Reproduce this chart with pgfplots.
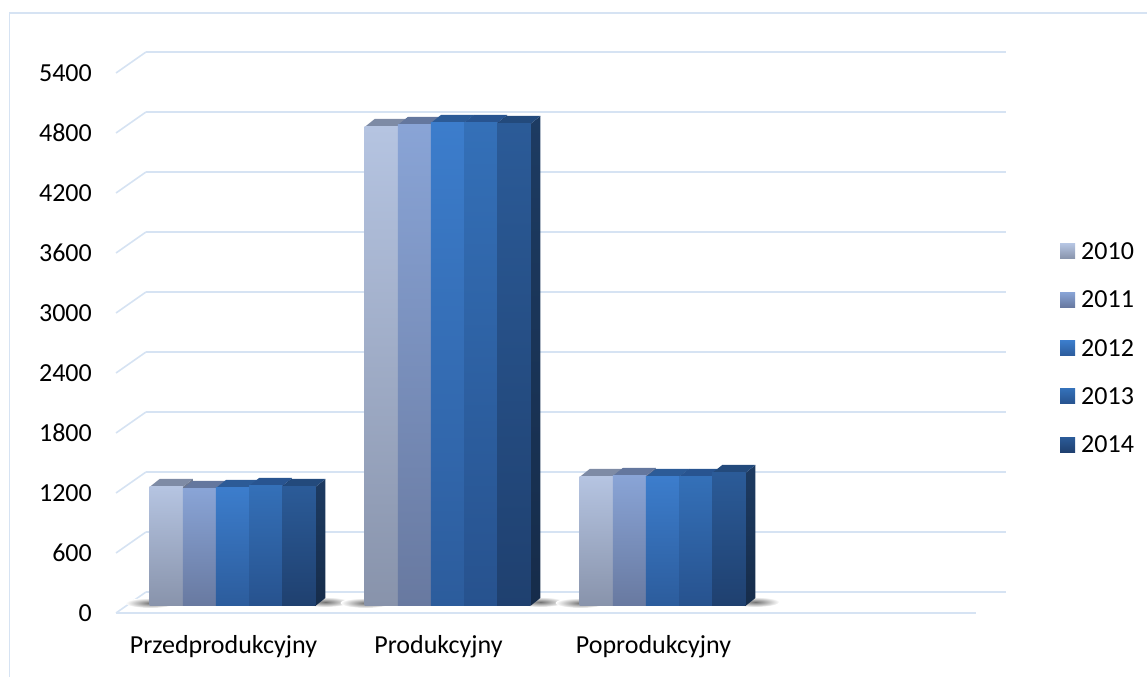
\documentclass[border=0pt]{standalone}
\usepackage{pgfplots}
\pgfplotsset{compat=1.18}
\usepackage{pgfplotstable}
\usepackage{fontspec}
\setmainfont{Carlito}

\definecolor{gridblue}{RGB}{214,227,243}
% front face (top, bottom), top face, side face (top, bottom)
\definecolor{aT}{RGB}{181,196,225}\definecolor{aB}{RGB}{136,147,171}\definecolor{aP}{RGB}{126,139,165}\definecolor{aS}{RGB}{110,122,146}\definecolor{aD}{RGB}{90,100,122}
\definecolor{bT}{RGB}{137,164,214}\definecolor{bB}{RGB}{104,121,160}\definecolor{bP}{RGB}{100,119,158}\definecolor{bS}{RGB}{85,103,140}\definecolor{bD}{RGB}{66,80,110}
\definecolor{cT}{RGB}{60,125,204}\definecolor{cB}{RGB}{44,92,156}\definecolor{cP}{RGB}{44,91,151}\definecolor{cS}{RGB}{36,73,122}\definecolor{cD}{RGB}{28,57,96}
\definecolor{dT}{RGB}{52,112,184}\definecolor{dB}{RGB}{39,82,142}\definecolor{dP}{RGB}{40,84,144}\definecolor{dS}{RGB}{33,69,117}\definecolor{dD}{RGB}{26,54,92}
\definecolor{eT}{RGB}{43,91,152}\definecolor{eB}{RGB}{31,64,111}\definecolor{eP}{RGB}{35,74,124}\definecolor{eS}{RGB}{29,59,98}\definecolor{eD}{RGB}{22,44,74}

% population by age group, 2010-2014
\pgfplotstableread{
pos  y2010 y2011 y2012 y2013 y2014
0.5  1190  1170  1180  1200  1190
1.5  4790  4810  4830  4830  4820
2.5  1290  1300  1290  1290  1330
}\popdata

\pgfdeclareplotmark{void}{}
\def\bw{33.15bp}

\pgfplotsset{
  % one block of a 3-D column: #1 position in the group (0..4),
  % #2/#3 front shading, #4 top face, #5/#6 side shading
  box/.style n args={6}{
    scatter, only marks, mark=void, point meta=y,
    visualization depends on={rawy \as \val},
    scatter/@pre marker code/.code={%
      \pgfmathsetlengthmacro\H{0.1bp*\val}%
      \pgfmathsetlengthmacro\L{(#1-2.5)*\bw+9bp}%
      \pgfmathsetlengthmacro\R{\L+\bw}%
      \pgfmathsetlengthmacro\LL{\L+10bp}%
      \pgfmathsetlengthmacro\RR{\R+10bp}%
      \pgfmathsetlengthmacro\B{7bp-\H}%
      \pgfmathsetlengthmacro\BB{15bp-\H}%
      \shade[draw=none,top color=#5,bottom color=#6] (\R,\B) -- (\R,7bp) -- (\RR,15bp) -- (\RR,\BB) -- cycle;
      \fill[draw=none,#4] (\L,7bp) -- (\LL,15bp) -- (\RR,15bp) -- (\R,7bp) -- cycle;
      \shade[draw=none,top color=#2,bottom color=#3] (\L,\B) rectangle (\R,7bp);
    },
    scatter/@post marker code/.code={},
    legend image code/.code={\shade[draw=none,top color=#2,bottom color=#3] (0bp,-7bp) rectangle (15bp,8bp);},
  },
  % soft shadow cast on the floor at both ends of a group
  floorshadow/.style={
    scatter, only marks, mark=void, point meta=y, forget plot,
    visualization depends on={rawy \as \val},
    scatter/@pre marker code/.code={%
      \pgfmathsetlengthmacro\H{0.1bp*\val}%
      \pgfmathsetlengthmacro\Lg{-2.5*\bw+9bp}%
      \pgfmathsetlengthmacro\Rg{2.5*\bw+9bp}%
      \pgfmathsetlengthmacro\B{7bp-\H}%
      \shade[draw=none,inner color=black!55,outer color=white] ([xshift=1bp,yshift=3bp]\Lg,\B) ellipse [x radius=25bp,y radius=5bp];
      \shade[draw=none,inner color=black!55,outer color=white] ([xshift=10bp,yshift=4bp]\Rg,\B) ellipse [x radius=24bp,y radius=5bp];
    },
    scatter/@post marker code/.code={},
  },
}

\begin{document}
\begin{tikzpicture}
\useasboundingbox (0,0) rectangle (1147bp,677bp);
\draw[gridblue, line width=1.5bp] (9.5bp,-5bp) -- (9.5bp,664bp) -- (1155bp,664bp);
\begin{axis}[
  at={(116bp,64bp)}, anchor=south west,
  scale only axis, width=860bp, height=540bp,
  xmin=0, xmax=4, ymin=0, ymax=5400,
  clip=false,
  axis line style={draw=none},
  tick style={draw=none},
  major tick length=0pt,
  xtick={0.5,1.5,2.5},
  xticklabels={Przedprodukcyjny,Produkcyjny,Poprodukcyjny},
  ytick={0,600,1200,1800,2400,3000,3600,4200,4800,5400},
  ymajorgrids,
  grid style={gridblue, line width=1.6bp, xshift=30bp, yshift=21bp},
  /pgf/number format/1000 sep={},
  /pgf/number format/assume math mode=true,
  every tick label/.append style={font=\fontsize{26bp}{31bp}\selectfont},
  xticklabel style={anchor=base, inner sep=0pt, yshift=-40bp},
  yticklabel style={anchor=east, inner sep=0pt, xshift=-24bp},
  legend cell align=left,
  legend style={at={(1.0977,0.4898)}, anchor=west, draw=none, fill=none,
    inner sep=0pt, row sep=26bp, column sep=4bp,
    font=\fontsize{26bp}{31bp}\selectfont},
]
% left wall and floor edges
\pgfplotsinvokeforeach{0,600,1200,1800,2400,3000,3600,4200,4800,5400}{
  \draw[gridblue, line width=1.6bp] (axis cs:0,#1) -- ++(30bp,21bp);
}
\draw[gridblue, line width=1.6bp] (axis cs:0,0) -- (axis cs:4,0);

\addplot[floorshadow] table[x=pos, y=y2010] {\popdata};
\addplot[box={0}{aT}{aB}{aP}{aS}{aD}] table[x=pos, y=y2010] {\popdata};
\addplot[box={1}{bT}{bB}{bP}{bS}{bD}] table[x=pos, y=y2011] {\popdata};
\addplot[box={2}{cT}{cB}{cP}{cS}{cD}] table[x=pos, y=y2012] {\popdata};
\addplot[box={3}{dT}{dB}{dP}{dS}{dD}] table[x=pos, y=y2013] {\popdata};
\addplot[box={4}{eT}{eB}{eP}{eS}{eD}] table[x=pos, y=y2014] {\popdata};
\legend{2010,2011,2012,2013,2014}
\end{axis}
\end{tikzpicture}
\end{document}
